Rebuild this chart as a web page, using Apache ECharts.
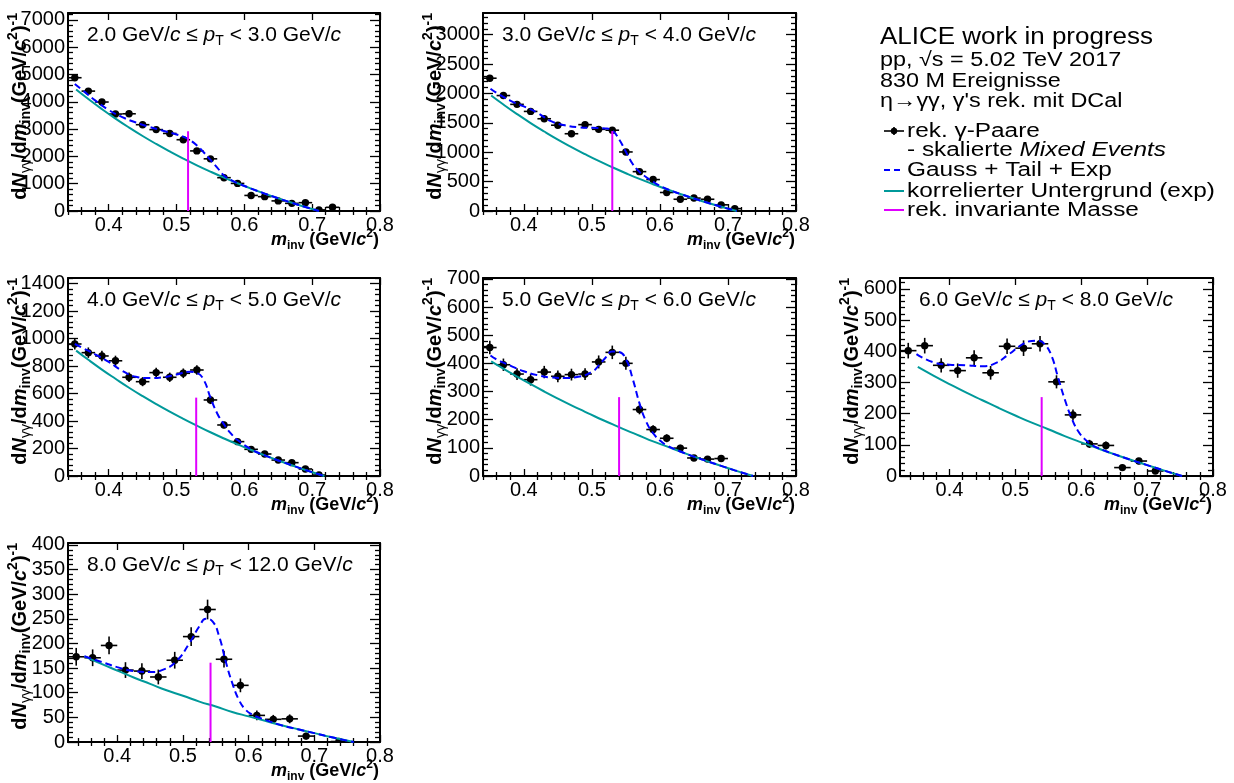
<!DOCTYPE html>
<html>
<head>
<meta charset="utf-8">
<script src="https://cdn.jsdelivr.net/npm/echarts@6/dist/echarts.min.js"></script>
<style>
  html, body { margin: 0; padding: 0; background: #fff; }
  #chart { width: 1234px; height: 783px; }
</style>
</head>
<body>
<div id="chart"></div>
<script>
// ---- eta -> gamma gamma invariant-mass spectra, one array set per pT bin ----
const ptLow  = ['2.0', '3.0', '4.0', '5.0', '6.0', '8.0'];
const ptHigh = ['3.0', '4.0', '5.0', '6.0', '8.0', '12.0'];

// 2.0 - 3.0 GeV/c
const mass1   = [0.35,0.37,0.39,0.41,0.43,0.45,0.47,0.49,0.51,0.53,0.55,0.57,0.59,0.61,0.63,0.65,0.67,0.69,0.71,0.73];
const counts1 = [4880,4390,3990,3550,3560,3160,2980,2840,2610,2200,1910,1220,1010,570,525,370,280,305,40,135];
const errs1   = [70,66,63,60,60,56,55,54,52,47,44,36,33,26,25,21,18,19,8,12];
const fitX1   = [0.35,0.36,0.38,0.40,0.42,0.44,0.46,0.48,0.50,0.51,0.52,0.53,0.54,0.55,0.56,0.57,0.58,0.59,0.61,0.63,0.65,0.67,0.69,0.71];
const fitY1   = [4650,4450,4050,3700,3440,3240,3080,2940,2800,2720,2590,2400,2150,1870,1590,1300,1140,1020,821,637,464,300,146,0];
const bkgX1   = [0.352,0.37,0.39,0.41,0.43,0.45,0.47,0.49,0.51,0.53,0.55,0.57,0.59,0.61,0.63,0.65,0.67,0.69,0.71];
const bkgY1   = [4450,4100,3732,3384,3056,2746,2454,2179,1918,1672,1441,1222,1016,821,637,464,300,146,0];
const peak1   = [0.517, 2920];

// 3.0 - 4.0 GeV/c
const mass2   = [0.35,0.37,0.39,0.41,0.43,0.45,0.47,0.49,0.51,0.53,0.55,0.57,0.59,0.61,0.63,0.65,0.67,0.69,0.71];
const counts2 = [2260,1965,1815,1695,1570,1460,1315,1470,1390,1375,1005,670,535,315,200,220,200,105,40];
const errs2   = [45,42,40,39,38,37,35,37,36,36,31,25,22,17,14,15,14,10,6];
const fitX2   = [0.351,0.36,0.38,0.40,0.42,0.44,0.46,0.48,0.50,0.52,0.53,0.54,0.55,0.56,0.57,0.58,0.59,0.61,0.63,0.65,0.67,0.69,0.713];
const fitY2   = [2080,2010,1880,1780,1670,1530,1460,1425,1415,1405,1370,1220,1010,800,665,575,495,375,290,213,141,73,0];
const bkgX2   = [0.352,0.37,0.39,0.41,0.43,0.45,0.47,0.49,0.51,0.53,0.55,0.57,0.59,0.61,0.63,0.65,0.67,0.69,0.713];
const bkgY2   = [1966,1812,1650,1497,1353,1216,1088,967,852,745,643,546,456,370,290,213,141,73,0];
const peak2   = [0.530, 1360];

// 4.0 - 5.0 GeV/c
const mass3   = [0.35,0.37,0.39,0.41,0.43,0.45,0.47,0.49,0.51,0.53,0.55,0.57,0.59,0.61,0.63,0.65,0.67,0.69,0.71];
const counts3 = [960,897,873,838,718,686,752,718,747,771,553,371,250,194,160,116,97,51,7];
const errs3   = [40,38,38,37,34,33,35,34,35,35,30,24,20,17,16,14,12,9,4];
const fitX3   = [0.35,0.36,0.38,0.40,0.42,0.44,0.46,0.48,0.50,0.52,0.53,0.54,0.55,0.56,0.57,0.58,0.59,0.61,0.63,0.65,0.67,0.69,0.718];
const fitY3   = [960,935,885,830,765,722,712,718,738,758,750,700,570,455,375,310,262,195,150,113,78,44,0];
const bkgX3   = [0.352,0.37,0.39,0.41,0.43,0.45,0.47,0.49,0.51,0.53,0.55,0.57,0.59,0.61,0.63,0.65,0.67,0.69,0.718];
const bkgY3   = [912,845,774,707,642,581,523,468,416,366,318,273,230,189,150,113,78,44,0];
const peak3   = [0.529, 570];

// 5.0 - 6.0 GeV/c
const mass4   = [0.35,0.37,0.39,0.41,0.43,0.45,0.47,0.49,0.51,0.53,0.55,0.57,0.59,0.61,0.63,0.65,0.67,0.69];
const counts4 = [456,395,362,342,369,354,360,362,405,439,400,236,165,134,99,64,60,62];
const errs4   = [24,22,21,21,22,21,21,21,23,24,23,17,15,14,12,10,10,10];
const fitX4   = [0.351,0.36,0.38,0.40,0.42,0.44,0.46,0.48,0.50,0.51,0.52,0.53,0.54,0.55,0.56,0.57,0.58,0.59,0.60,0.61,0.63,0.65,0.67,0.69,0.71,0.737];
const fitY4   = [428,414,392,372,358,350,348,352,370,392,420,442,440,415,345,258,192,152,126,109,87,69,52,36,20,0];
const bkgX4   = [0.352,0.37,0.39,0.41,0.43,0.45,0.47,0.49,0.51,0.53,0.55,0.57,0.59,0.61,0.63,0.65,0.67,0.69,0.71,0.737];
const bkgY4   = [407,381,353,326,300,275,251,228,205,184,163,143,123,105,87,69,52,36,20,0];
const peak4   = [0.540, 280];

// 6.0 - 8.0 GeV/c
const mass5   = [0.3375,0.3625,0.3875,0.4125,0.4375,0.4625,0.4875,0.5125,0.5375,0.5625,0.5875,0.6125,0.6375,0.6625,0.6875,0.7125];
const counts5 = [402,418,355,338,379,331,416,410,424,302,196,103,98,27,48,16];
const errs5   = [25,25,23,23,24,22,25,25,25,21,17,13,13,9,10,7];
const fitX5   = [0.35,0.375,0.40,0.425,0.45,0.47,0.49,0.51,0.525,0.535,0.545,0.555,0.565,0.575,0.585,0.595,0.605,0.615,0.625,0.65,0.675,0.70,0.725,0.753];
const fitY5   = [391,365,357,355,352,362,390,421,433,434,422,385,315,246,188,145,119,102,90,70,52,35,18,0];
const bkgX5   = [0.352,0.375,0.40,0.425,0.45,0.475,0.50,0.525,0.55,0.575,0.60,0.625,0.65,0.675,0.70,0.725,0.753];
const bkgY5   = [350,323,295,268,243,218,194,171,150,128,108,89,70,52,35,18,0];
const peak5   = [0.540, 253];

// 8.0 - 12.0 GeV/c
const mass6   = [0.3375,0.3625,0.3875,0.4125,0.4375,0.4625,0.4875,0.5125,0.5375,0.5625,0.5875,0.6125,0.6375,0.6625,0.6875,0.7375];
const counts6 = [173,171,196,146,144,132,166,214,269,168,115,54,46,47,12,1];
const errs6   = [18,17,18,16,16,15,17,19,20,17,14,10,9,9,7,3];
const fitX6   = [0.35,0.375,0.40,0.425,0.45,0.47,0.49,0.51,0.525,0.535,0.545,0.555,0.565,0.575,0.585,0.595,0.605,0.615,0.625,0.65,0.675,0.70,0.725,0.76];
const fitY6   = [174,163,152,144,142,147,164,201,235,250,245,215,164,120,86,66,56,50,45,34,26,18,10,0];
const bkgX6   = [0.35,0.375,0.40,0.425,0.45,0.475,0.50,0.525,0.55,0.575,0.60,0.625,0.65,0.675,0.70,0.725,0.76];
const bkgY6   = [174,159,145,131,118,105,94,82,72,61,52,43,34,26,18,10,0];
const peak6   = [0.542, 161];

// half bin widths, axis ranges and tick steps
const halfBin = [0.01, 0.01, 0.01, 0.01, 0.0125, 0.0125];
const xMin    = [0.34, 0.34, 0.34, 0.34, 0.325, 0.325];
const xMax    = 0.8;
const yMax    = [7250, 3370, 1440, 703, 635, 404];
const yStep   = [1000, 500, 200, 100, 100, 50];
const xMajorTicks = [0.4, 0.5, 0.6, 0.7, 0.8];

// legend / header text
const headerLines = ['ALICE work in progress', 'pp, √s = 5.02 TeV 2017', '830 M Ereignisse', "η→γγ, γ's rek. mit DCal"];
const legendTexts = ['rek. γ-Paare', '{n|- skalierte }{i|Mixed Events}', 'Gauss + Tail + Exp', 'korrelierter Untergrund (exp)', 'rek. invariante Masse'];

// ---- layout and styles ----
const FONT = '"Liberation Sans", Arial, Helvetica, sans-serif';
const BLUE = '#0000ff';
const TEAL = '#00999a';
const MAGENTA = '#e000ff';
const boxes = [
  [68, 13, 312, 198], [483, 13, 313, 198],
  [68, 278, 312, 198], [483, 278, 313, 198], [900, 278, 313, 198],
  [68, 543, 312, 199]
];

const panels = [
  [mass1, counts1, errs1, fitX1, fitY1, bkgX1, bkgY1, peak1],
  [mass2, counts2, errs2, fitX2, fitY2, bkgX2, bkgY2, peak2],
  [mass3, counts3, errs3, fitX3, fitY3, bkgX3, bkgY3, peak3],
  [mass4, counts4, errs4, fitX4, fitY4, bkgX4, bkgY4, peak4],
  [mass5, counts5, errs5, fitX5, fitY5, bkgX5, bkgY5, peak5],
  [mass6, counts6, errs6, fitX6, fitY6, bkgX6, bkgY6, peak6]
];

function xMinorTicks(lo) {
  const out = [];
  for (let k = Math.ceil(lo / 0.02 - 1e-6); k <= 40; k++) {
    if (k % 5 !== 0) out.push(+(k * 0.02).toFixed(2));
  }
  return out;
}
function yTicks(max, step, minor) {
  const out = [];
  const d = minor ? step / 5 : step;
  for (let k = 0; k * d <= max + 1e-9; k++) {
    if (!minor || k % 5 !== 0) out.push(+(k * d).toFixed(6));
  }
  return out;
}

const lineBlack = { color: '#000', width: 2 };
const tickStyle = { color: '#000', width: 1.3 };

const grids = [], xAxes = [], yAxes = [], series = [], graphics = [];

function renderErrorPoint(params, api) {
  const x = api.value(0), y = api.value(1), ex = api.value(2), ey = api.value(3);
  const c = api.coord([x, y]);
  const l = api.coord([x - ex, y]);
  const r = api.coord([x + ex, y]);
  const t = api.coord([x, y + ey]);
  const b = api.coord([x, Math.max(0, y - ey)]);
  const st = { stroke: '#000', lineWidth: 1.6 };
  return {
    type: 'group',
    children: [
      { type: 'line', shape: { x1: l[0], y1: l[1], x2: r[0], y2: r[1] }, style: st },
      { type: 'line', shape: { x1: t[0], y1: t[1], x2: b[0], y2: b[1] }, style: st },
      { type: 'circle', shape: { cx: c[0], cy: c[1], r: 3.7 }, style: { fill: '#000' } }
    ]
  };
}

const richTitle = {
  n: { fontSize: 21, fontFamily: FONT, fill: '#000', lineHeight: 27 },
  i: { fontSize: 21, fontFamily: FONT, fontStyle: 'italic', fill: '#000', lineHeight: 27 },
  s: { fontSize: 14, fontFamily: FONT, fill: '#000', lineHeight: 6, verticalAlign: 'bottom' }
};
const richX = {
  b: { fontSize: 18, fontFamily: FONT, fontWeight: 'bold', fill: '#000', lineHeight: 24 },
  bi: { fontSize: 18, fontFamily: FONT, fontWeight: 'bold', fontStyle: 'italic', fill: '#000', lineHeight: 24 },
  s: { fontSize: 12, fontFamily: FONT, fontWeight: 'bold', fill: '#000', lineHeight: 6, verticalAlign: 'bottom' },
  u: { fontSize: 12, fontFamily: FONT, fontWeight: 'bold', fill: '#000', lineHeight: 11, verticalAlign: 'top' }
};
const richY = {
  b: { fontSize: 20, fontFamily: FONT, fontWeight: 'bold', fill: '#000', lineHeight: 27 },
  bi: { fontSize: 20, fontFamily: FONT, fontWeight: 'bold', fontStyle: 'italic', fill: '#000', lineHeight: 27 },
  g: { fontSize: 14, fontFamily: FONT, fill: '#000', lineHeight: 6, verticalAlign: 'bottom' },
  s: { fontSize: 14, fontFamily: FONT, fontWeight: 'bold', fill: '#000', lineHeight: 6, verticalAlign: 'bottom' },
  u: { fontSize: 14, fontFamily: FONT, fontWeight: 'bold', fill: '#000', lineHeight: 12, verticalAlign: 'top' }
};

panels.forEach((p, i) => {
  const [mass, counts, errs, fitX, fitY, bkgX, bkgY, peak] = p;
  const [L, T, W, H] = boxes[i];
  grids.push({ left: L, top: T, width: W, height: H, show: false });

  const xBase = { gridIndex: i, type: 'value', min: xMin[i], max: xMax, splitLine: { show: false },
                  axisLabel: { show: false }, axisTick: { show: false }, axisLine: { show: false } };
  const minorX = xMinorTicks(xMin[i]);
  xAxes.push(
    Object.assign({}, xBase, {
      position: 'bottom',
      axisLine: { show: true, onZero: false, lineStyle: lineBlack },
      axisTick: { show: true, inside: true, length: 7, customValues: xMajorTicks, lineStyle: tickStyle },
      axisLabel: { show: true, customValues: xMajorTicks, margin: 4, fontSize: 20, fontFamily: FONT, color: '#000',
                   formatter: v => v.toFixed(1) }
    }),
    Object.assign({}, xBase, {
      position: 'bottom',
      axisTick: { show: true, inside: true, length: 4, customValues: minorX, lineStyle: tickStyle }
    }),
    Object.assign({}, xBase, {
      position: 'top',
      axisLine: { show: true, onZero: false, lineStyle: lineBlack },
      axisTick: { show: true, inside: true, length: 7, customValues: xMajorTicks, lineStyle: tickStyle }
    }),
    Object.assign({}, xBase, {
      position: 'top',
      axisTick: { show: true, inside: true, length: 4, customValues: minorX, lineStyle: tickStyle }
    })
  );

  const yMaj = yTicks(yMax[i], yStep[i], false);
  const yMin = yTicks(yMax[i], yStep[i], true);
  const yBase = { gridIndex: i, type: 'value', min: 0, max: yMax[i], splitLine: { show: false },
                  axisLabel: { show: false }, axisTick: { show: false }, axisLine: { show: false } };
  yAxes.push(
    Object.assign({}, yBase, {
      position: 'left',
      axisLine: { show: true, onZero: false, lineStyle: lineBlack },
      axisTick: { show: true, inside: true, length: 10, customValues: yMaj, lineStyle: tickStyle },
      axisLabel: { show: true, customValues: yMaj, margin: 3, fontSize: 20, fontFamily: FONT, color: '#000',
                   formatter: v => String(v) }
    }),
    Object.assign({}, yBase, {
      position: 'left',
      axisTick: { show: true, inside: true, length: 5, customValues: yMin, lineStyle: tickStyle }
    }),
    Object.assign({}, yBase, {
      position: 'right',
      axisLine: { show: true, onZero: false, lineStyle: lineBlack },
      axisTick: { show: true, inside: true, length: 10, customValues: yMaj, lineStyle: tickStyle }
    }),
    Object.assign({}, yBase, {
      position: 'right',
      axisTick: { show: true, inside: true, length: 5, customValues: yMin, lineStyle: tickStyle }
    })
  );

  const xi = 4 * i, yi = 4 * i;
  series.push({
    type: 'custom', xAxisIndex: xi, yAxisIndex: yi, clip: true, z: 2,
    renderItem: renderErrorPoint,
    encode: { x: 0, y: 1 },
    data: mass.map((m, k) => [m, counts[k], halfBin[i], errs[k]])
  });
  series.push({
    type: 'line', xAxisIndex: xi, yAxisIndex: yi, z: 3, clip: true,
    showSymbol: false, symbol: 'none', smooth: 0.5,
    lineStyle: { color: TEAL, width: 2 },
    data: bkgX.map((x, k) => [x, bkgY[k]])
  });
  series.push({
    type: 'line', xAxisIndex: xi, yAxisIndex: yi, z: 4, clip: true,
    showSymbol: false, symbol: 'none', smooth: 0.5,
    lineStyle: { color: BLUE, width: 2, type: [7, 4] },
    data: fitX.map((x, k) => [x, fitY[k]])
  });
  series.push({
    type: 'line', xAxisIndex: xi, yAxisIndex: yi, z: 5,
    showSymbol: false, symbol: 'none',
    lineStyle: { color: MAGENTA, width: 2 },
    data: [[peak[0], 0], [peak[0], peak[1]]]
  });

  // bin label inside the frame
  graphics.push({
    type: 'text', x: L + 19, y: T + 22, z: 10,
    style: {
      text: '{n|' + ptLow[i] + ' GeV/}{i|c}{n| ≤ }{i|p}{s|T}{n| < ' + ptHigh[i] + ' GeV/}{i|c}',
      rich: richTitle, align: 'left', verticalAlign: 'middle', textAlign: 'left', textVerticalAlign: 'middle'
    }
  });
  // x-axis title
  graphics.push({
    type: 'text', x: L + W - 1, y: T + H + 29, z: 10,
    style: {
      text: '{bi|m}{s|inv}{b| (GeV/}{bi|c}{u|2}{b|)}',
      rich: richX, align: 'right', verticalAlign: 'middle', textAlign: 'right', textVerticalAlign: 'middle'
    }
  });
  // y-axis title
  graphics.push({
    type: 'text', x: L - 48, y: T, rotation: Math.PI / 2, z: 10,
    style: {
      text: '{b|d}{bi|N}{g|γγ}{b|/d}{bi|m}{s|inv}{b|(GeV/}{bi|c}{u|2}{b|)}{u|-1}',
      rich: richY, align: 'right', verticalAlign: 'middle', textAlign: 'right', textVerticalAlign: 'middle'
    }
  });
});

// header block (text is drawn slightly widened)
const headerY = [38, 60, 81, 101];
headerLines.forEach((t, k) => {
  graphics.push({
    type: 'text', x: 880, y: headerY[k], scaleX: k === 0 ? 1.13 : 1.17,
    style: { text: t, fill: '#000', font: (k === 0 ? '23px ' : '20px ') + FONT,
             align: 'left', verticalAlign: 'middle', textAlign: 'left', textVerticalAlign: 'middle' }
  });
});

// legend entries
const legY = [131, 150, 170, 191, 210];
const richLeg = {
  n: { fontSize: 20, fontFamily: FONT, fill: '#000' },
  i: { fontSize: 20, fontFamily: FONT, fontStyle: 'italic', fill: '#000' }
};
legendTexts.forEach((t, k) => {
  graphics.push({
    type: 'text', x: 907, y: legY[k], scaleX: 1.22,
    style: { text: k === 1 ? t : '{n|' + t + '}', rich: richLeg,
             align: 'left', verticalAlign: 'middle', textAlign: 'left', textVerticalAlign: 'middle' }
  });
});
graphics.push(
  { type: 'line', shape: { x1: 884, y1: legY[0], x2: 904, y2: legY[0] }, style: { stroke: '#000', lineWidth: 1.6 } },
  { type: 'line', shape: { x1: 894, y1: legY[0] - 4, x2: 894, y2: legY[0] + 4 }, style: { stroke: '#000', lineWidth: 1.6 } },
  { type: 'circle', shape: { cx: 894, cy: legY[0], r: 3.2 }, style: { fill: '#000' } },
  { type: 'line', shape: { x1: 884, y1: legY[2], x2: 904, y2: legY[2] }, style: { stroke: BLUE, lineWidth: 2, lineDash: [6, 4] } },
  { type: 'line', shape: { x1: 884, y1: legY[3], x2: 904, y2: legY[3] }, style: { stroke: TEAL, lineWidth: 2 } },
  { type: 'line', shape: { x1: 884, y1: legY[4], x2: 904, y2: legY[4] }, style: { stroke: MAGENTA, lineWidth: 2 } }
);

const chart = echarts.init(document.getElementById('chart'), null, { renderer: 'canvas' });
chart.setOption({
  animation: false,
  backgroundColor: '#fff',
  grid: grids,
  xAxis: xAxes,
  yAxis: yAxes,
  series: series,
  graphic: { elements: graphics }
});
</script>
</body>
</html>
